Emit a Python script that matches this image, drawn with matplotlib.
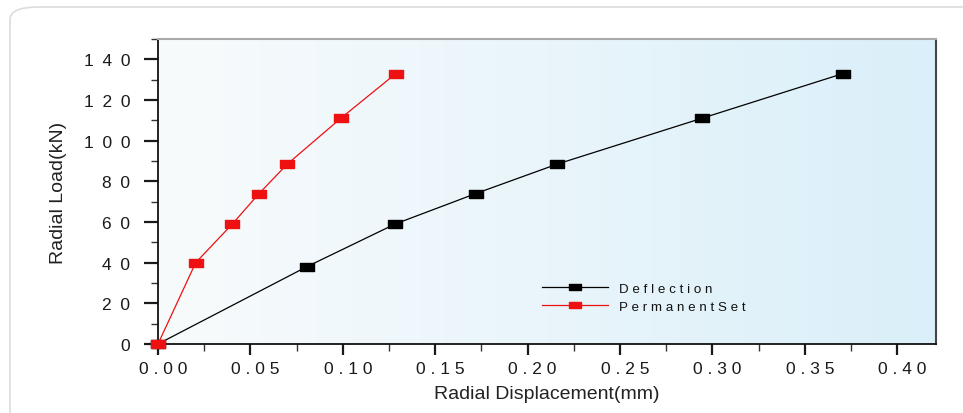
import matplotlib
matplotlib.use("Agg")
import matplotlib.pyplot as plt
import numpy as np
from matplotlib.patches import FancyBboxPatch
from matplotlib.ticker import MultipleLocator
from matplotlib.colors import LinearSegmentedColormap
import matplotlib.transforms as mtransforms

plt.rcParams['font.family'] = ['Liberation Sans', 'DejaVu Sans']

# Data
deflection_x = [0.0, 0.0805, 0.1283, 0.1720, 0.2161, 0.2943, 0.3707]
deflection_y = [0, 38, 59, 74, 88.5, 111, 133]
permset_x = [0.0, 0.0204, 0.0402, 0.0547, 0.0700, 0.0989, 0.1287]
permset_y = [0, 40, 59, 74, 88.5, 111, 133]
x_ticks = [0.00, 0.05, 0.10, 0.15, 0.20, 0.25, 0.30, 0.35, 0.40]
x_ticklabels = ['0.00', '0.05', '0.10', '0.15', '0.20', '0.25', '0.30', '0.35', '0.40']
y_ticks = [0, 20, 40, 60, 80, 100, 120, 140]
y_ticklabels = ['0', '20', '40', '60', '80', '100', '120', '140']
series_names = ['Deflection', 'PermanentSet']


def spaced(s, sep=' '):
    return sep.join(list(s))


W, H = 963, 414
fig = plt.figure(figsize=(W / 100, H / 100), dpi=100)
fig.patch.set_facecolor('white')

# rounded outer frame
frame = FancyBboxPatch((10 / W, -0.1), (W + 20) / W, (414 - 8) / H + 0.1,
                       boxstyle="round,pad=0,rounding_size=0.03",
                       transform=fig.transFigure, facecolor='white',
                       edgecolor='#dcdcdc', linewidth=1.2, zorder=-10)
fig.patches.append(frame)

ax = fig.add_axes([158 / W, 1 - 345 / H, (936 - 158) / W, (345 - 40) / H])
ax.set_zorder(5)

# gradient background
grad = np.linspace(0, 1, 256).reshape(1, -1)
cmap = LinearSegmentedColormap.from_list('bg', ['#f8fbfc', '#daeff9'])
ax.imshow(grad, extent=[0, 1, 0, 1], transform=ax.transAxes, aspect='auto',
          cmap=cmap, zorder=0)
ax.set_xlim(0, 0.421)
ax.set_ylim(0, 150)
ax.set_facecolor('none')

rect = [(-1, -0.55), (1, -0.55), (1, 0.55), (-1, 0.55), (-1, -0.55)]
ax.plot(deflection_x, deflection_y, color='black', lw=0.9, marker=rect,
        markersize=9.5, label=spaced(series_names[0]), zorder=3, clip_on=False)
ax.plot(permset_x, permset_y, color='#ee1111', lw=0.9, marker=rect,
        markersize=9.5, label=spaced(series_names[1]), zorder=4, clip_on=False)

ax.set_xticks(x_ticks)
ax.set_xticklabels([spaced(t) for t in x_ticklabels])
ax.set_yticks(y_ticks)
ax.set_yticklabels([spaced(t, '\u2002') for t in y_ticklabels])
ax.xaxis.set_minor_locator(MultipleLocator(0.025))
ax.yaxis.set_minor_locator(MultipleLocator(10))
ax.tick_params(axis='both', which='major', direction='out', width=1.6,
               labelsize=12.5, colors='#1a1a1a')
ax.tick_params(axis='x', which='major', length=8, pad=4)
ax.tick_params(axis='y', which='major', length=10, pad=10)
ax.tick_params(axis='both', which='minor', direction='out', length=5, width=1.0,
               colors='#333333')

# shift x tick labels slightly right as in reference
offset = mtransforms.ScaledTranslation(5 / 100, 0, fig.dpi_scale_trans)
for lab in ax.get_xticklabels():
    lab.set_transform(lab.get_transform() + offset)

for s in ['left', 'bottom']:
    ax.spines[s].set_color('#111111')
    ax.spines[s].set_linewidth(1.3)
ax.spines['right'].set_color('#444444')
ax.spines['right'].set_linewidth(1.5)
ax.spines['top'].set_color('#aaaaaa')
ax.spines['top'].set_linewidth(1.5)

ax.set_xlabel('Radial Displacement(mm)', fontsize=14, color='#222222', labelpad=7)
ax.set_ylabel('Radial Load(kN)', fontsize=14, color='#222222', labelpad=12)

leg = ax.legend(loc='upper left', bbox_to_anchor=((535 - 158) / (936 - 158), (345 - 277) / 305),
                frameon=False, fontsize=9.6, handlelength=5.0, handletextpad=0.8,
                labelspacing=0.4, borderpad=0)
for t in leg.get_texts():
    t.set_color('#111111')
for h in leg.legend_handles:
    h.set_markersize(9)

fig.savefig('out.png', dpi=100)
